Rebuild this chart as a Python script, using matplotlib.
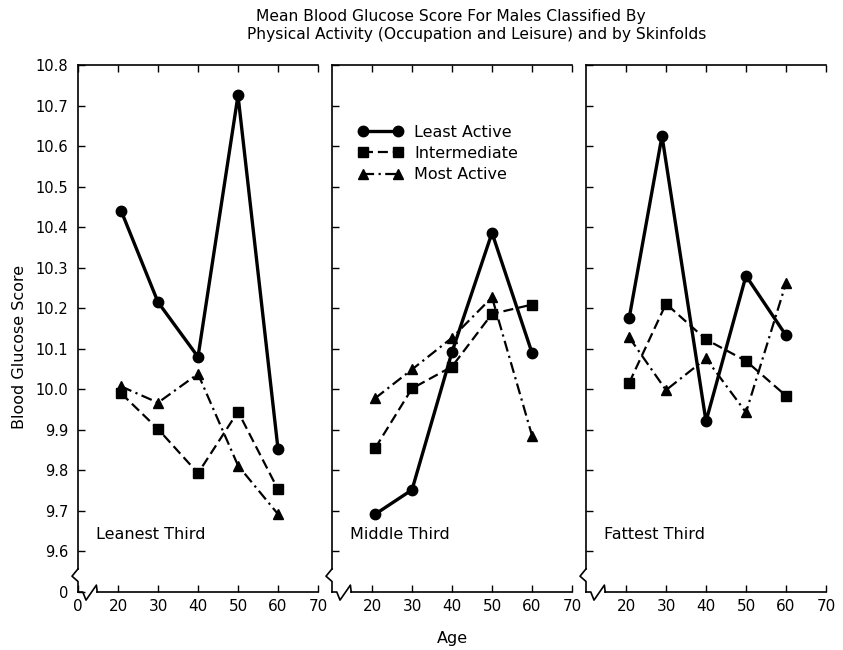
import matplotlib
matplotlib.use('Agg')
import matplotlib.pyplot as plt
import numpy as np

# ages (first point sits a bit right of 20 in the original)
ages = [20.8, 30, 40, 50, 60]
ages_fat_least = [20.8, 29, 40, 50, 60]

panels = ['Leanest Third', 'Middle Third', 'Fattest Third']

least_active = [
    [10.44, 10.215, 10.08, 10.725, 9.853],
    [9.692, 9.752, 10.092, 10.386, 10.09],
    [10.176, 10.625, 9.921, 10.28, 10.133],
]
intermediate = [
    [9.99, 9.902, 9.793, 9.945, 9.753],
    [9.855, 10.002, 10.056, 10.186, 10.209],
    [10.016, 10.211, 10.123, 10.07, 9.984],
]
most_active = [
    [10.007, 9.967, 10.038, 9.812, 9.692],
    [9.978, 10.049, 10.127, 10.227, 9.886],
    [10.128, 9.998, 10.076, 9.943, 10.262],
]

yticks = [9.6, 9.7, 9.8, 9.9, 10.0, 10.1, 10.2, 10.3, 10.4, 10.5, 10.6, 10.7, 10.8]
xticks = [20, 30, 40, 50, 60, 70]

plt.rcParams['font.family'] = 'DejaVu Sans'

fig = plt.figure(figsize=(8.43, 6.5), dpi=100)
W, H = 843.0, 650.0
lefts = [78, 332, 586]
pw = 240
bottom_px, top_px = 592, 65

axes = []
for i, lp in enumerate(lefts):
    ax = fig.add_axes([lp / W, 1 - bottom_px / H, pw / W, (bottom_px - top_px) / H])
    axes.append(ax)
    ax.set_xlim(10, 70)
    ax.set_ylim(9.5, 10.8)

    xa = ages_fat_least if i == 2 else ages
    ax.plot(xa, least_active[i], color='black', lw=2.4, ls='-', marker='o',
            ms=7.5, label='Least Active', clip_on=False)
    ax.plot(ages, intermediate[i], color='black', lw=1.6, ls=(0, (4.5, 2.2)),
            marker='s', ms=7, label='Intermediate', clip_on=False)
    ax.plot(ages, most_active[i], color='black', lw=1.6, ls=(0, (5, 2, 1, 2)),
            marker='^', ms=7.5, label='Most Active', clip_on=False)

    ax.spines['right'].set_visible(False)
    for s in ['left', 'bottom', 'top']:
        ax.spines[s].set_linewidth(1.2)
    ax.spines['left'].set_bounds(9.557, 10.8)
    ax.spines['bottom'].set_bounds(14.8, 70)

    # axis break marks
    ax.plot([10, 8.5, 10, 10], [9.557, 9.539, 9.526, 9.5], color='black',
            lw=1.2, clip_on=False)
    ax.plot([10, 11.2, 12.0, 14.6, 14.8], [9.5, 9.5, 9.48, 9.517, 9.5],
            color='black', lw=1.2, clip_on=False)

    ax.tick_params(direction='in', length=5, width=1, top=True, right=False,
                   labelsize=11, colors='black')
    ax.tick_params(axis='x', pad=5)
    ax.tick_params(axis='y', pad=7, labelsize=10.5)

    if i == 0:
        ax.set_xticks([10] + xticks)
        ax.set_xticklabels(['0'] + [str(t) for t in xticks])
        ax.set_yticks([9.5] + yticks)
        ax.set_yticklabels(['0'] + ['%.1f' % t for t in yticks])
    else:
        ax.set_xticks(xticks)
        ax.set_xticklabels([str(t) for t in xticks])
        ax.set_yticks(yticks)
        ax.set_yticklabels([])

    ax.text(0.075, 0.11, panels[i], transform=ax.transAxes, fontsize=11.5,
            ha='left', va='center')

axes[1].legend(loc='upper left', bbox_to_anchor=(0.11, 0.887), frameon=False,
               numpoints=2, handlelength=2.8, handletextpad=0.7,
               labelspacing=0.4, borderpad=0, borderaxespad=0, fontsize=11.5)

fig.text(451 / W, 1 - 17 / H,
         'Mean Blood Glucose Score For Males Classified By',
         ha='center', va='center', fontsize=11.2)
fig.text(477 / W, 1 - 34 / H,
         'Physical Activity (Occupation and Leisure) and by Skinfolds',
         ha='center', va='center', fontsize=11.2)
fig.text(452 / W, 1 - 638 / H, 'Age', ha='center', va='center', fontsize=11.5)
fig.text(20 / W, 1 - 347 / H, 'Blood Glucose Score', ha='center', va='center',
         rotation=90, fontsize=11.5)

fig.savefig('out.png', dpi=100)
